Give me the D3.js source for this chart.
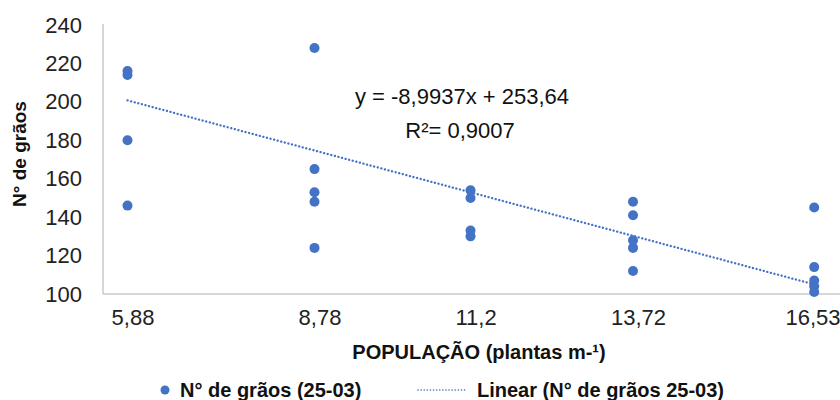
<!DOCTYPE html>
<html>
<head>
<meta charset="utf-8">
<script src="https://cdn.jsdelivr.net/npm/d3@7"></script>
<style>
  body { margin: 0; background: #fff; }
  svg { display: block; font-family: Arial, "Liberation Sans", sans-serif; }
</style>
</head>
<body>
<div id="chart"></div>
<script>
// Population levels (plants per m) and grain counts
const populacao = [5.88, 8.78, 11.2, 13.72, 16.53];
const xTickLabels = ["5,88", "8,78", "11,2", "13,72", "16,53"];
const yTicks = [100, 120, 140, 160, 180, 200, 220, 240];

const pontosX = [5.88, 5.88, 5.88, 5.88,
                 8.78, 8.78, 8.78, 8.78, 8.78,
                 11.2, 11.2, 11.2, 11.2,
                 13.72, 13.72, 13.72, 13.72, 13.72,
                 16.53, 16.53, 16.53, 16.53, 16.53];
const pontosY = [216, 214, 180, 146,
                 228, 165, 153, 148, 124,
                 154, 150, 133, 130,
                 148, 141, 128, 124, 112,
                 145, 114, 107, 104, 101];

// y = a*x + b
const coefTendencia = [-8.9937, 253.64];
const equacao = "y = -8,9937x + 253,64";
const r2Texto = "R²= 0,9007";

const width = 840, height = 400;
const blue = "#4472C4";
const axisGray = "#c9c9c9";

const svg = d3.select("#chart")
  .append("svg")
  .attr("width", width)
  .attr("height", height);

const x = d3.scaleLinear().domain([5.5, 16.93]).range([103, 840]);
const y = d3.scaleLinear().domain([100, 240]).range([294, 25]);

// axis lines
svg.append("line")
  .attr("x1", x.range()[0]).attr("x2", x.range()[0])
  .attr("y1", y(240) - 1).attr("y2", y(100))
  .attr("stroke", axisGray).attr("stroke-width", 1.5);
svg.append("line")
  .attr("x1", x.range()[0]).attr("x2", x.range()[1])
  .attr("y1", y(100)).attr("y2", y(100))
  .attr("stroke", axisGray).attr("stroke-width", 1.5);

// y tick labels
const yAxis = svg.append("g")
  .attr("transform", `translate(${x.range()[0]},0)`)
  .call(d3.axisLeft(y).tickValues(yTicks).tickSize(0).tickPadding(21));
yAxis.select(".domain").remove();
yAxis.selectAll("text")
  .style("font-size", "22px")
  .style("font-family", "Arial, 'Liberation Sans', sans-serif")
  .attr("fill", "#222");

// x tick labels (last one kept inside the picture)
const xAxis = svg.append("g")
  .attr("transform", `translate(0,${y(100)})`)
  .call(d3.axisBottom(x).tickValues(populacao).tickSize(0).tickPadding(15)
    .tickFormat((d, i) => xTickLabels[i]));
xAxis.select(".domain").remove();
xAxis.selectAll("text")
  .style("font-size", "22px")
  .style("font-family", "Arial, 'Liberation Sans', sans-serif")
  .attr("fill", "#222")
  .attr("dy", "0.71em")
  .attr("dx", function () {
    const t = d3.select(this.parentNode).datum();
    const w = this.getComputedTextLength();
    const cx = Math.min(x(t) + 5, width - w / 2);
    return cx - x(t);
  });

// trend line (round dots)
const linhaX = [populacao[0], populacao[populacao.length - 1]];
svg.append("line")
  .attr("x1", x(linhaX[0]))
  .attr("y1", y(coefTendencia[0] * linhaX[0] + coefTendencia[1]))
  .attr("x2", x(linhaX[1]))
  .attr("y2", y(coefTendencia[0] * linhaX[1] + coefTendencia[1]))
  .attr("stroke", blue)
  .attr("stroke-width", 2.3)
  .attr("stroke-linecap", "round")
  .attr("stroke-dasharray", "0.1,3.6");

// points
svg.selectAll(".ponto")
  .data(pontosX.map((v, i) => [v, pontosY[i]]))
  .enter()
  .append("circle")
  .attr("class", "ponto")
  .attr("cx", d => x(d[0]))
  .attr("cy", d => y(d[1]))
  .attr("r", 5)
  .attr("fill", blue);

// equation and R²
svg.append("text")
  .attr("x", 462).attr("y", 104)
  .attr("text-anchor", "middle")
  .style("font-size", "22px")
  .attr("fill", "#111")
  .text(equacao);
svg.append("text")
  .attr("x", 460).attr("y", 138)
  .attr("text-anchor", "middle")
  .style("font-size", "22px")
  .attr("fill", "#111")
  .text(r2Texto);

// axis titles
svg.append("text")
  .attr("transform", "translate(26,154) rotate(-90)")
  .attr("text-anchor", "middle")
  .style("font-size", "19px")
  .style("font-weight", "bold")
  .attr("fill", "#111")
  .text("N° de grãos");

svg.append("text")
  .attr("x", 479).attr("y", 359)
  .attr("text-anchor", "middle")
  .style("font-size", "20px")
  .style("font-weight", "bold")
  .attr("fill", "#111")
  .text("POPULAÇÃO (plantas m-¹)");

// legend
const legenda = svg.append("g");
legenda.append("circle")
  .attr("cx", 165).attr("cy", 390).attr("r", 4.5)
  .attr("fill", blue);
legenda.append("text")
  .attr("x", 180).attr("y", 397)
  .style("font-size", "20px")
  .style("font-weight", "bold")
  .attr("fill", "#111")
  .text("N° de grãos (25-03)");
legenda.append("line")
  .attr("x1", 418).attr("x2", 465)
  .attr("y1", 390).attr("y2", 390)
  .attr("stroke", blue)
  .attr("stroke-width", 1.6)
  .attr("stroke-linecap", "round")
  .attr("stroke-dasharray", "0.1,3");
legenda.append("text")
  .attr("x", 477).attr("y", 397)
  .style("font-size", "20px")
  .style("font-weight", "bold")
  .attr("fill", "#111")
  .text("Linear (N° de grãos 25-03)");
</script>
</body>
</html>
